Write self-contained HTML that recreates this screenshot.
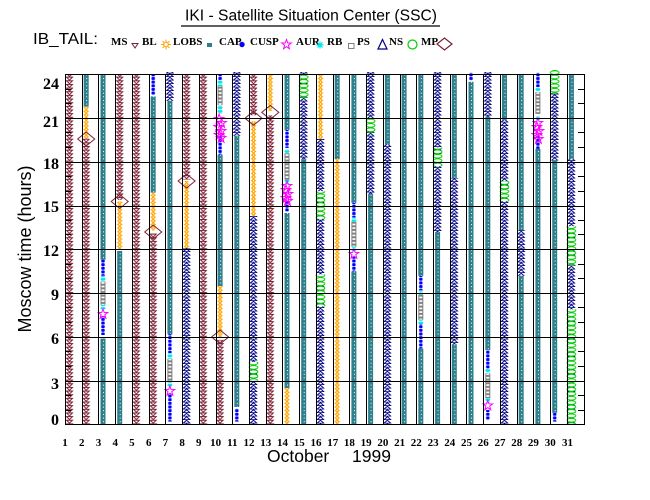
<!DOCTYPE html>
<html><head><meta charset="utf-8"><style>
html,body{margin:0;padding:0;background:#fff;}
svg{display:block;}
</style></head><body>
<svg width="650" height="500" viewBox="0 0 650 500" xmlns="http://www.w3.org/2000/svg" xmlns:xlink="http://www.w3.org/1999/xlink">
<defs>
<pattern id="pMS" x="-4" y="0" width="8" height="3.65" patternUnits="userSpaceOnUse"><path d="M1,0.5H7L4,3.4Z" fill="none" stroke="#7b2035" stroke-width="1"/></pattern>
<pattern id="pCAP" x="-2.5" y="0" width="5" height="3.65" patternUnits="userSpaceOnUse"><rect width="5" height="3.65" fill="#2e7f8c"/><rect x="2.5" y="1.4" width="1" height="1" fill="#fff"/></pattern>
<pattern id="pLOBS" x="-3" y="0" width="6" height="3.65" patternUnits="userSpaceOnUse"><circle cx="3" cy="1.8" r="1.3" fill="none" stroke="#ffa500" stroke-width="1.1"/><path d="M0.3,1.8H1.7M4.3,1.8H5.7M3,0V0.5M3,3.1V3.65" stroke="#ffa500" stroke-width="0.9"/></pattern>
<pattern id="pCUSP" x="-2" y="0" width="4" height="3.65" patternUnits="userSpaceOnUse"><rect x="0.3" y="0.3" width="3.4" height="3" rx="0.8" fill="#0000ff"/></pattern>
<pattern id="pRB" x="-3" y="0" width="6" height="3.65" patternUnits="userSpaceOnUse"><path d="M3,0.3V3.3M0.5,1.8H5.5M1.2,0.6L4.8,3M4.8,0.6L1.2,3" stroke="#00e5e5" stroke-width="1"/></pattern>
<pattern id="pPS" x="-2.5" y="0" width="5" height="3.65" patternUnits="userSpaceOnUse"><rect x="0.5" y="0.5" width="4" height="2.65" fill="none" stroke="#808080" stroke-width="1"/></pattern>
<pattern id="pNS" x="-4" y="0" width="8" height="3.5" patternUnits="userSpaceOnUse"><path d="M0.5,3.3L4,0.3L7.5,3.3Z" fill="none" stroke="#000080" stroke-width="1"/></pattern>
<pattern id="pGR" x="-5" y="0" width="10" height="4.4" patternUnits="userSpaceOnUse"><ellipse cx="5" cy="2.2" rx="4.4" ry="1.8" fill="#fff" stroke="#00cc00" stroke-width="1"/></pattern>
<polygon id="star" points="0,-5 1.2,-1.6 4.8,-1.5 1.9,0.6 2.9,4.2 0,2.1 -2.9,4.2 -1.9,0.6 -4.8,-1.5 -1.2,-1.6" fill="none" stroke="#ff00ff" stroke-width="1"/>
<polygon id="dia" points="-8.5,0 0,-7 8.5,0 0,7" fill="none" stroke="#7b2035" stroke-width="1"/>
</defs>

<!-- Title -->
<text x="185" y="20.5" font-family="Liberation Sans, Arial, sans-serif" font-size="15.5" textLength="252" lengthAdjust="spacingAndGlyphs">IKI - Satellite Situation Center (SSC)</text>
<line x1="181" y1="26" x2="440" y2="26" stroke="#000" stroke-width="1.2"/>

<!-- Legend -->
<text x="33" y="44" font-family="Liberation Sans, Arial, sans-serif" font-size="16" textLength="65" lengthAdjust="spacingAndGlyphs">IB_TAIL:</text>
<g font-family="Liberation Serif, Times New Roman, serif" font-weight="bold" font-size="11">
<text x="111" y="45">MS</text>
<text x="142" y="45">BL</text>
<text x="173" y="45">LOBS</text>
<text x="219" y="45">CAP</text>
<text x="250" y="45">CUSP</text>
<text x="296" y="45">AUR</text>
<text x="327" y="45">RB</text>
<text x="357" y="45">PS</text>
<text x="389" y="45">NS</text>
<text x="421" y="45">MP</text>
</g>
<path d="M132,43.5H138L135,48Z" fill="none" stroke="#7b2035"/>
<circle cx="166" cy="44.5" r="2.3" fill="none" stroke="#ffa500" stroke-width="1.2"/>
<path d="M161,44.5H163.5M168.5,44.5H171M166,39.5V42M166,47V49.5M162.5,41L164,42.5M169.5,41L168,42.5M162.5,48L164,46.5M169.5,48L168,46.5" stroke="#ffa500" stroke-width="1"/>
<rect x="207" y="43" width="5" height="4" fill="#2e7f8c"/>
<circle cx="242" cy="44.5" r="2.7" fill="#0000ff"/>
<use xlink:href="#star" href="#star" x="286.5" y="44.5"/>
<path d="M320,41.5V48.5M316.5,45H323.5M317.5,42.5L322.5,47.5M322.5,42.5L317.5,47.5" stroke="#00e5e5" stroke-width="1.2"/>
<rect x="348.5" y="43.5" width="5.5" height="5" fill="none" stroke="#808080"/>
<path d="M378,49L382.5,39.5L387,49Z" fill="none" stroke="#000080" stroke-width="1.2"/>
<circle cx="412.5" cy="44.5" r="4.5" fill="none" stroke="#00cc00" stroke-width="1.2"/>
<polygon points="437,44 444.5,38 452,44 444.5,50" fill="none" stroke="#7b2035" stroke-width="1.2"/>

<!-- Data columns -->
<g transform="translate(69.5,0)"><rect x="-4" y="74.5" width="8" height="350" fill="url(#pMS)"/></g>
<g transform="translate(86.2,0)">
<rect x="-2.5" y="74.5" width="5" height="32.1" fill="url(#pCAP)"/>
<rect x="-3" y="106.6" width="6" height="32.1" fill="url(#pLOBS)"/>
<rect x="-4" y="138.7" width="8" height="285.8" fill="url(#pMS)"/>
<use xlink:href="#dia" href="#dia" x="0" y="139"/>
</g>
<g transform="translate(103,0)">
<rect x="-2.5" y="74.5" width="5" height="185.2" fill="url(#pCAP)"/>
<rect x="-2" y="259.7" width="4" height="16.1" fill="url(#pCUSP)"/>
<rect x="-3" y="275.8" width="6" height="5.8" fill="url(#pRB)"/>
<rect x="-2.5" y="281.6" width="5" height="23.3" fill="url(#pPS)"/>
<rect x="-3" y="304.9" width="6" height="4.4" fill="url(#pRB)"/>
<rect x="-2" y="316" width="4" height="19" fill="url(#pCUSP)"/>
<rect x="-2.5" y="338.5" width="5" height="86" fill="url(#pCAP)"/>
<use xlink:href="#star" href="#star" x="0" y="314"/>
</g>
<g transform="translate(119.7,0)">
<rect x="-4" y="74.5" width="8" height="125.4" fill="url(#pMS)"/>
<rect x="-3" y="201.4" width="6" height="48.1" fill="url(#pLOBS)"/>
<rect x="-2.5" y="251" width="5" height="173.5" fill="url(#pCAP)"/>
<use xlink:href="#dia" href="#dia" x="0" y="201.5"/>
</g>
<g transform="translate(136.4,0)"><rect x="-4" y="74.5" width="8" height="350" fill="url(#pMS)"/></g>
<g transform="translate(153.2,0)">
<rect x="-2" y="74.5" width="4" height="20.4" fill="url(#pCUSP)"/>
<rect x="-2.5" y="96.4" width="5" height="96.2" fill="url(#pCAP)"/>
<rect x="-3" y="192.6" width="6" height="37.9" fill="url(#pLOBS)"/>
<rect x="-4" y="233.5" width="8" height="191" fill="url(#pMS)"/>
<use xlink:href="#dia" href="#dia" x="0" y="232"/>
</g>
<g transform="translate(169.9,0)">
<rect x="-4" y="72" width="8" height="28.8" fill="url(#pNS)"/>
<rect x="-2.5" y="100.8" width="5" height="233.3" fill="url(#pCAP)"/>
<rect x="-2" y="334.1" width="4" height="18.9" fill="url(#pCUSP)"/>
<rect x="-3" y="353" width="6" height="5.9" fill="url(#pRB)"/>
<rect x="-2.5" y="358.9" width="5" height="23.3" fill="url(#pPS)"/>
<rect x="-3" y="382.2" width="6" height="4.4" fill="url(#pRB)"/>
<rect x="-2" y="393.9" width="4" height="27.7" fill="url(#pCUSP)"/>
<use xlink:href="#star" href="#star" x="0" y="391"/>
</g>
<g transform="translate(186.6,0)">
<rect x="-4" y="74.5" width="8" height="105" fill="url(#pMS)"/>
<rect x="-3" y="181" width="6" height="67" fill="url(#pLOBS)"/>
<rect x="-4" y="248" width="8" height="176.5" fill="url(#pNS)"/>
<use xlink:href="#dia" href="#dia" x="0" y="181"/>
</g>
<g transform="translate(203.3,0)"><rect x="-4" y="74.5" width="8" height="350" fill="url(#pMS)"/></g>
<g transform="translate(220.1,0)">
<rect x="-2" y="74.5" width="4" height="5.8" fill="url(#pCUSP)"/>
<rect x="-3" y="80.3" width="6" height="5.9" fill="url(#pRB)"/>
<rect x="-2.5" y="86.2" width="5" height="18.9" fill="url(#pPS)"/>
<rect x="-3" y="105.1" width="6" height="8.8" fill="url(#pRB)"/>
<rect x="-2" y="135.8" width="4" height="18.9" fill="url(#pCUSP)"/>
<rect x="-2.5" y="154.7" width="5" height="131.3" fill="url(#pCAP)"/>
<rect x="-3" y="286" width="6" height="51" fill="url(#pLOBS)"/>
<rect x="-4" y="339.9" width="8" height="84.6" fill="url(#pMS)"/>
<use xlink:href="#star" href="#star" x="-1" y="119"/>
<use xlink:href="#star" href="#star" x="1.5" y="123"/>
<use xlink:href="#star" href="#star" x="-1.5" y="127"/>
<use xlink:href="#star" href="#star" x="1" y="131"/>
<use xlink:href="#star" href="#star" x="-1" y="135"/>
<use xlink:href="#star" href="#star" x="1" y="138"/>
<use xlink:href="#dia" href="#dia" x="0" y="337"/>
</g>
<g transform="translate(236.8,0)">
<rect x="-4" y="72" width="8" height="63.8" fill="url(#pNS)"/>
<rect x="-2.5" y="135.8" width="5" height="271.2" fill="url(#pCAP)"/>
<rect x="-2" y="408.5" width="4" height="13.1" fill="url(#pCUSP)"/>
</g>
<g transform="translate(253.5,0)">
<rect x="-4" y="74.5" width="8" height="40.8" fill="url(#pMS)"/>
<rect x="-3" y="121.2" width="6" height="94.8" fill="url(#pLOBS)"/>
<rect x="-4" y="216" width="8" height="208.5" fill="url(#pNS)"/>
<rect x="-5" y="361.8" width="10" height="19" fill="url(#pGR)"/>
<use xlink:href="#dia" href="#dia" x="0" y="118.3"/>
</g>
<g transform="translate(270.3,0)">
<rect x="-3" y="74.5" width="6" height="36.5" fill="url(#pLOBS)"/>
<rect x="-4" y="115.3" width="8" height="309.2" fill="url(#pMS)"/>
<use xlink:href="#dia" href="#dia" x="0" y="112.4"/>
</g>
<g transform="translate(287,0)">
<rect x="-2.5" y="74.5" width="5" height="55.4" fill="url(#pCAP)"/>
<rect x="-2" y="129.9" width="4" height="18" fill="url(#pCUSP)"/>
<rect x="-3" y="148.9" width="6" height="4.4" fill="url(#pRB)"/>
<rect x="-2.5" y="153.3" width="5" height="26.2" fill="url(#pPS)"/>
<rect x="-3" y="179.5" width="6" height="4.4" fill="url(#pRB)"/>
<rect x="-2" y="201.4" width="4" height="10.2" fill="url(#pCUSP)"/>
<rect x="-2.5" y="213" width="5" height="175" fill="url(#pCAP)"/>
<rect x="-3" y="388" width="6" height="36.5" fill="url(#pLOBS)"/>
<use xlink:href="#star" href="#star" x="0" y="186"/>
<use xlink:href="#star" href="#star" x="-1" y="190"/>
<use xlink:href="#star" href="#star" x="1" y="194"/>
<use xlink:href="#star" href="#star" x="-1" y="198"/>
<use xlink:href="#star" href="#star" x="0.5" y="201"/>
</g>
<g transform="translate(303.7,0)">
<rect x="-4" y="72" width="8" height="87.1" fill="url(#pNS)"/>
<rect x="-2.5" y="159.1" width="5" height="265.4" fill="url(#pCAP)"/>
<rect x="-5" y="75" width="10" height="22.8" fill="url(#pGR)"/>
</g>
<g transform="translate(320.5,0)">
<rect x="-3" y="74.5" width="6" height="65.6" fill="url(#pLOBS)"/>
<rect x="-4" y="139" width="8" height="285.5" fill="url(#pNS)"/>
<rect x="-5" y="191.2" width="10" height="27.7" fill="url(#pGR)"/>
<rect x="-5" y="274.3" width="10" height="32.1" fill="url(#pGR)"/>
</g>
<g transform="translate(337.2,0)">
<rect x="-2.5" y="74.5" width="5" height="84.6" fill="url(#pCAP)"/>
<rect x="-3" y="159.1" width="6" height="265.4" fill="url(#pLOBS)"/>
</g>
<g transform="translate(353.9,0)">
<rect x="-2.5" y="74.5" width="5" height="128.3" fill="url(#pCAP)"/>
<rect x="-2" y="202.8" width="4" height="14.6" fill="url(#pCUSP)"/>
<rect x="-3" y="217.4" width="6" height="4.4" fill="url(#pRB)"/>
<rect x="-2.5" y="221.8" width="5" height="24.8" fill="url(#pPS)"/>
<rect x="-3" y="246.6" width="6" height="4.4" fill="url(#pRB)"/>
<rect x="-2" y="256.8" width="4" height="14.6" fill="url(#pCUSP)"/>
<rect x="-2.5" y="271.4" width="5" height="153.1" fill="url(#pCAP)"/>
<use xlink:href="#star" href="#star" x="0" y="254"/>
</g>
<g transform="translate(370.6,0)">
<rect x="-4" y="72" width="8" height="122.1" fill="url(#pNS)"/>
<rect x="-2.5" y="194.1" width="5" height="230.4" fill="url(#pCAP)"/>
<rect x="-5" y="118.3" width="10" height="14.5" fill="url(#pGR)"/>
</g>
<g transform="translate(387.4,0)">
<rect x="-2.5" y="74.5" width="5" height="70" fill="url(#pCAP)"/>
<rect x="-4" y="144.5" width="8" height="280" fill="url(#pNS)"/>
</g>
<g transform="translate(404.1,0)"><rect x="-2.5" y="74.5" width="5" height="350" fill="url(#pCAP)"/></g>
<g transform="translate(420.8,0)">
<rect x="-2.5" y="74.5" width="5" height="201.3" fill="url(#pCAP)"/>
<rect x="-2" y="275.8" width="4" height="14.5" fill="url(#pCUSP)"/>
<rect x="-3" y="290.3" width="6" height="4.4" fill="url(#pRB)"/>
<rect x="-2.5" y="294.7" width="5" height="24.8" fill="url(#pPS)"/>
<rect x="-3" y="319.5" width="6" height="4.4" fill="url(#pRB)"/>
<rect x="-2" y="323.9" width="4" height="24.8" fill="url(#pCUSP)"/>
<rect x="-2.5" y="348.7" width="5" height="75.8" fill="url(#pCAP)"/>
</g>
<g transform="translate(437.6,0)">
<rect x="-4" y="72" width="8" height="160" fill="url(#pNS)"/>
<rect x="-2.5" y="232" width="5" height="192.5" fill="url(#pCAP)"/>
<rect x="-5" y="147.4" width="10" height="19" fill="url(#pGR)"/>
</g>
<g transform="translate(454.3,0)">
<rect x="-2.5" y="74.5" width="5" height="103.5" fill="url(#pCAP)"/>
<rect x="-4" y="178" width="8" height="166.3" fill="url(#pNS)"/>
<rect x="-2.5" y="344.3" width="5" height="80.2" fill="url(#pCAP)"/>
</g>
<g transform="translate(471,0)">
<rect x="-2" y="72.5" width="4" height="8" fill="url(#pCUSP)"/>
<rect x="-2.5" y="81.8" width="5" height="342.7" fill="url(#pCAP)"/>
</g>
<g transform="translate(487.8,0)">
<rect x="-4" y="72" width="8" height="44.8" fill="url(#pNS)"/>
<rect x="-2.5" y="116.8" width="5" height="233.3" fill="url(#pCAP)"/>
<rect x="-2" y="350.1" width="4" height="19" fill="url(#pCUSP)"/>
<rect x="-3" y="369.1" width="6" height="4.4" fill="url(#pRB)"/>
<rect x="-2.5" y="373.5" width="5" height="24.7" fill="url(#pPS)"/>
<rect x="-3" y="398.2" width="6" height="4.4" fill="url(#pRB)"/>
<rect x="-2" y="409.9" width="4" height="10.2" fill="url(#pCUSP)"/>
<use xlink:href="#star" href="#star" x="0" y="405.5"/>
</g>
<g transform="translate(504.5,0)">
<rect x="-2.5" y="74.5" width="5" height="45.2" fill="url(#pCAP)"/>
<rect x="-4" y="119.7" width="8" height="304.8" fill="url(#pNS)"/>
<rect x="-5" y="181" width="10" height="20.4" fill="url(#pGR)"/>
</g>
<g transform="translate(521.2,0)">
<rect x="-2.5" y="74.5" width="5" height="156" fill="url(#pCAP)"/>
<rect x="-4" y="230.5" width="8" height="45.3" fill="url(#pNS)"/>
<rect x="-2.5" y="275.8" width="5" height="148.7" fill="url(#pCAP)"/>
</g>
<g transform="translate(537.9,0)">
<rect x="-2" y="72.5" width="4" height="14.5" fill="url(#pCUSP)"/>
<rect x="-3" y="87" width="6" height="4.4" fill="url(#pRB)"/>
<rect x="-2.5" y="92" width="5" height="21.9" fill="url(#pPS)"/>
<rect x="-3" y="116" width="6" height="4.4" fill="url(#pRB)"/>
<rect x="-2" y="135.8" width="4" height="13.1" fill="url(#pCUSP)"/>
<rect x="-2.5" y="148.9" width="5" height="275.6" fill="url(#pCAP)"/>
<use xlink:href="#star" href="#star" x="0" y="123"/>
<use xlink:href="#star" href="#star" x="-1" y="127"/>
<use xlink:href="#star" href="#star" x="1" y="131"/>
<use xlink:href="#star" href="#star" x="-1" y="135"/>
<use xlink:href="#star" href="#star" x="0.5" y="139"/>
</g>
<g transform="translate(554.7,0)">
<rect x="-5" y="70" width="10" height="23.5" fill="url(#pGR)"/>
<rect x="-4" y="93.5" width="8" height="67" fill="url(#pNS)"/>
<rect x="-2.5" y="160.5" width="5" height="252.3" fill="url(#pCAP)"/>
<rect x="-2" y="412.8" width="4" height="8.8" fill="url(#pCUSP)"/>
</g>
<g transform="translate(571.4,0)">
<rect x="-2.5" y="74.5" width="5" height="84.6" fill="url(#pCAP)"/>
<rect x="-4" y="159.1" width="8" height="265.4" fill="url(#pNS)"/>
<rect x="-5" y="226.2" width="10" height="39.3" fill="url(#pGR)"/>
<rect x="-5" y="309.3" width="10" height="115.2" fill="url(#pGR)"/>
</g>

<!-- Grid -->
<g stroke="#000" stroke-width="1" shape-rendering="crispEdges" fill="none">
<path d="M65.5,74V425M82.5,74V425M98.5,74V425M115.5,74V425M132.5,74V425M149.5,74V425M165.5,74V425M182.5,74V425M199.5,74V425M216.5,74V425M232.5,74V425M249.5,74V425M266.5,74V425M282.5,74V425M299.5,74V425M316.5,74V425M333.5,74V425M349.5,74V425M366.5,74V425M383.5,74V425M400.5,74V425M416.5,74V425M433.5,74V425M450.5,74V425M466.5,74V425M483.5,74V425M500.5,74V425M517.5,74V425M533.5,74V425M550.5,74V425M567.5,74V425M584.5,74V425"/>
<path d="M65,74.5H585M65,118.5H585M65,162.5H585M65,206.5H585M65,249.5H585M65,293.5H585M65,337.5H585M65,381.5H585M65,424.5H585"/>
<path d="M65,410.5h6M65,395.5h6M65,366.5h6M65,351.5h6M65,322.5h6M65,307.5h6M65,278.5h6M65,264.5h6M65,234.5h6M65,220.5h6M65,191.5h6M65,176.5h6M65,147.5h6M65,132.5h6M65,103.5h6M65,89.5h6"/>
<path d="M578,410.5h6M578,395.5h6M578,366.5h6M578,351.5h6M578,322.5h6M578,307.5h6M578,278.5h6M578,264.5h6M578,234.5h6M578,220.5h6M578,191.5h6M578,176.5h6M578,147.5h6M578,132.5h6M578,103.5h6M578,89.5h6"/>
</g>

<!-- Y tick labels -->
<g font-family="Liberation Serif, Times New Roman, serif" font-weight="bold" font-size="16" text-anchor="end">
<text x="59" y="89">24</text>
<text x="59" y="127">21</text>
<text x="59" y="169">18</text>
<text x="59" y="212">15</text>
<text x="59" y="256">12</text>
<text x="59" y="300">9</text>
<text x="59" y="344">6</text>
<text x="59" y="389">3</text>
<text x="59" y="425">0</text>
</g>

<!-- Y axis title -->
<text transform="translate(31,249) rotate(-90)" text-anchor="middle" font-family="Liberation Sans, Arial, sans-serif" font-size="18">Moscow time (hours)</text>

<!-- X tick labels -->
<g font-family="Liberation Serif, Times New Roman, serif" font-weight="bold" font-size="11" text-anchor="middle">
<text x="65" y="446">1</text><text x="81.7" y="446">2</text><text x="98.5" y="446">3</text><text x="115.2" y="446">4</text><text x="131.9" y="446">5</text><text x="148.7" y="446">6</text><text x="165.4" y="446">7</text><text x="182.1" y="446">8</text><text x="198.8" y="446">9</text><text x="215.6" y="446">10</text><text x="232.3" y="446">11</text><text x="249" y="446">12</text><text x="265.8" y="446">13</text><text x="282.5" y="446">14</text><text x="299.2" y="446">15</text><text x="316" y="446">16</text><text x="332.7" y="446">17</text><text x="349.4" y="446">18</text><text x="366.1" y="446">19</text><text x="382.9" y="446">20</text><text x="399.6" y="446">21</text><text x="416.3" y="446">22</text><text x="433.1" y="446">23</text><text x="449.8" y="446">24</text><text x="466.5" y="446">25</text><text x="483.3" y="446">26</text><text x="500" y="446">27</text><text x="516.7" y="446">28</text><text x="533.4" y="446">29</text><text x="550.2" y="446">30</text><text x="567.5" y="446">31</text>
</g>

<!-- X axis title -->
<text x="267" y="462" font-family="Liberation Sans, Arial, sans-serif" font-size="17.5">October</text>
<text x="352" y="462" font-family="Liberation Sans, Arial, sans-serif" font-size="17.5">1999</text>
</svg>
</body></html>
